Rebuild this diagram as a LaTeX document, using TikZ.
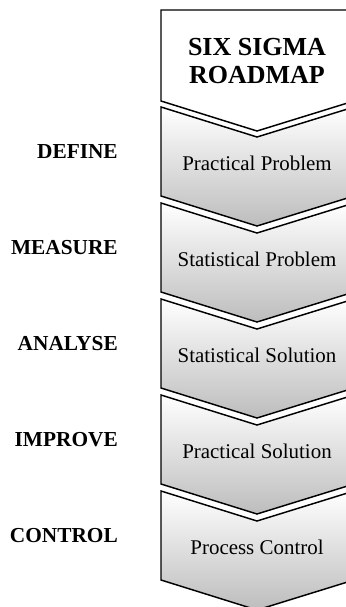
\documentclass[tikz,border=0pt]{standalone}
\usepackage{fontspec}
\setmainfont{Liberation Serif}
\begin{document}
\begin{tikzpicture}[x=0.75pt,y=-0.75pt,
  outline/.style={draw=black, line width=1.1pt, line join=miter},
  chev/.style={outline, top color=white, bottom color=gray!52},
  hdr/.style={outline, fill=white},
  boxtext/.style={font=\fontsize{15.7}{18}\selectfont, inner sep=0pt},
  lbl/.style={font=\fontsize{16}{19}\selectfont\bfseries, inner sep=0pt, anchor=east},
  title/.style={font=\fontsize{19.5}{21}\selectfont\bfseries, align=center, inner sep=0pt}]
\useasboundingbox (0,0) rectangle (346,607);
\clip (0,0) rectangle (346,607);
% header
\draw[hdr] (161,10) -- (354,10) -- (354,101) -- (257,131) -- (161,101) -- cycle;
\node[title] (head) at (257,61) {SIX SIGMA\\ROADMAP};
% chevrons
\foreach \i/\t/\txt/\lab in {1/107/Practical Problem/DEFINE,
                              2/203/Statistical Problem/MEASURE,
                              3/299/Statistical Solution/ANALYSE,
                              4/395/Practical Solution/IMPROVE,
                              5/491/Process Control/CONTROL}{
  \draw[chev] (161,\t) -- (257,\t+30) -- (354,\t) -- (354,\t+89)
              -- (257,\t+119) -- (161,\t+89) -- cycle;
  \node[boxtext] (box\i) at (257,\t+56) {\txt};
  \node[lbl] (lab\i) at (118,\t+45) {\lab};
}
\end{tikzpicture}
\end{document}
